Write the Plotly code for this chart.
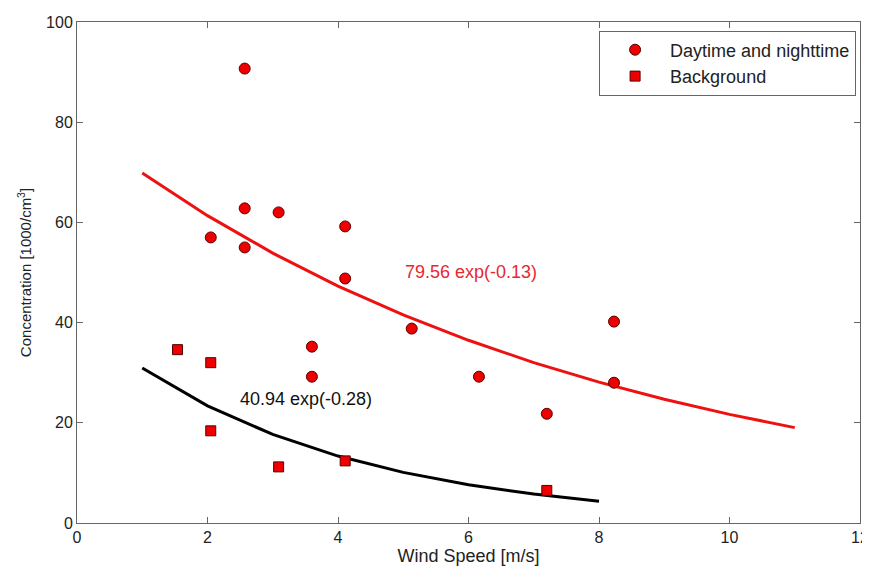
import plotly.graph_objects as go

# Daytime and nighttime measurements
day_x = [2.05, 2.57, 2.57, 2.57, 3.09, 3.60, 3.60, 4.11, 4.11, 5.13, 6.16, 7.20, 8.23, 8.23]
day_y = [57.0, 90.7, 62.8, 55.0, 62.0, 35.2, 29.2, 59.2, 48.8, 38.8, 29.2, 21.8, 40.2, 28.0]

# Background measurements
bg_x = [1.54, 2.05, 2.05, 3.09, 4.11, 7.20]
bg_y = [34.6, 32.0, 18.4, 11.2, 12.4, 6.5]

# Fitted curves (sampled at integer wind speeds)
fit_day_x = [1, 2, 3, 4, 5, 6, 7, 8, 9, 10, 11]
fit_day_y = [69.86, 61.35, 53.87, 47.30, 41.53, 36.47, 32.02, 28.12, 24.69, 21.68, 19.04]
fit_bg_x = [1, 2, 3, 4, 5, 6, 7, 8]
fit_bg_y = [30.94, 23.39, 17.67, 13.36, 10.10, 7.63, 5.77, 4.36]

x_ticks = [0, 2, 4, 6, 8, 10, 12]
y_ticks = [0, 20, 40, 60, 80, 100]

FONT = "Liberation Sans, Arial, sans-serif"

fig = go.Figure()
fig.add_trace(go.Scatter(x=fit_day_x, y=fit_day_y, mode="lines",
                         line=dict(color="#ee1111", width=3), showlegend=False))
fig.add_trace(go.Scatter(x=fit_bg_x, y=fit_bg_y, mode="lines",
                         line=dict(color="#000000", width=3), showlegend=False))
fig.add_trace(go.Scatter(x=day_x, y=day_y, mode="markers", name="Daytime and nighttime",
                         marker=dict(symbol="circle", size=11, color="#ee0000",
                                     line=dict(color="#550000", width=1))))
fig.add_trace(go.Scatter(x=bg_x, y=bg_y, mode="markers", name="Background",
                         marker=dict(symbol="square", size=10, color="#ee0000",
                                     line=dict(color="#550000", width=1))))

fig.add_annotation(x=5.0, y=50.2, text="79.56 exp(-0.13)", showarrow=False,
                   xanchor="left", yanchor="middle",
                   font=dict(family=FONT, size=18, color="#e8282f"))
fig.add_annotation(x=2.47, y=24.8, text="40.94 exp(-0.28)", showarrow=False,
                   xanchor="left", yanchor="middle",
                   font=dict(family=FONT, size=18, color="#111111"))

axis_common = dict(showgrid=False, zeroline=False, showline=True, linecolor="#666666",
                   linewidth=1, mirror="ticks", ticks="inside", ticklen=6,
                   tickcolor="#666666", automargin=False,
                   tickfont=dict(family=FONT, size=16, color="#222222"))

fig.update_xaxes(range=[0, 12], tickvals=x_ticks, ticktext=[str(v) for v in x_ticks],
                 title=dict(text="Wind Speed [m/s]", standoff=2,
                            font=dict(family=FONT, size=18, color="#222222")),
                 **axis_common)
fig.update_yaxes(range=[0, 100], tickvals=y_ticks, ticktext=[str(v) for v in y_ticks],
                 title=dict(text="Concentration [1000/cm<sup>3</sup>]", standoff=10,
                            font=dict(family=FONT, size=15, color="#222222")),
                 **axis_common)

fig.update_layout(
    width=862, height=564,
    margin=dict(l=69, r=10, t=14, b=49),
    paper_bgcolor="white", plot_bgcolor="white",
    font=dict(family=FONT, size=16, color="#222222"),
    legend=dict(x=0.995, y=0.983, xanchor="right", yanchor="top",
                bordercolor="#666666", borderwidth=1, bgcolor="white",
                font=dict(family=FONT, size=18, color="#222222"),
                itemwidth=60, tracegroupgap=0),
)

fig.write_html("out.html")
